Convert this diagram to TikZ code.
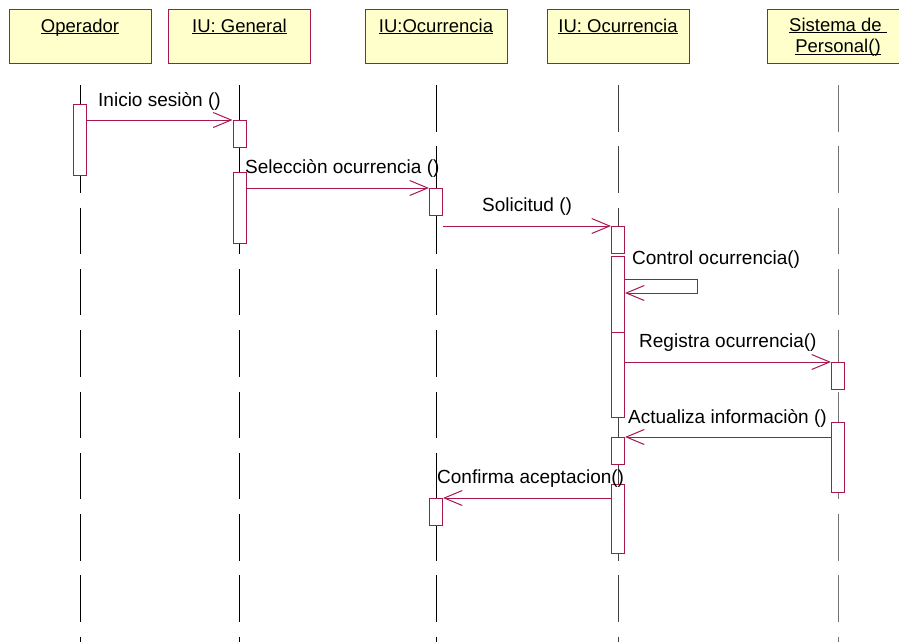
\documentclass[tikz,border=0pt]{standalone}
\usepackage{fontspec}
\setmainfont{Liberation Sans}
\usetikzlibrary{arrows.meta}
\definecolor{roseline}{RGB}{168,24,78}
\definecolor{headfill}{RGB}{255,255,204}
\newsavebox{\ulbox}
% underlined object name, rule just below the baseline
\newcommand{\ulword}[1]{\sbox{\ulbox}{#1}\rlap{\rule[-2.2pt]{\wd\ulbox}{0.9pt}}\usebox{\ulbox}}
\begin{document}
\begin{tikzpicture}[x=1pt,y=-1pt,
  headbox/.style={draw=roseline, fill=headfill, line width=1pt, minimum width=142pt,
    minimum height=54pt, inner sep=0pt, anchor=north west},
  headtxt/.style={anchor=base, font=\fontsize{18.5}{22}\selectfont, inner sep=0pt},
  life/.style={line width=0.7pt, draw=black!85, dash pattern=on 46.5pt off 14.8pt},
  actbox/.style={draw=roseline, fill=white, line width=1pt, minimum width=13pt,
    inner sep=0pt, anchor=north},
  msg/.style={draw=roseline, line width=1pt, -{Straight Barb[length=18pt,width=15pt]}},
  msgtxt/.style={anchor=base west, font=\fontsize{19}{23}\selectfont, inner sep=0pt}]
\useasboundingbox (0,0) rectangle (899,641);

% object headers
\node[headbox] (hOp) at (9,9) {};
\node[headbox] (hIG) at (168,9) {};
\node[headbox] (hIOa) at (365,9) {};
\node[headbox] (hIOb) at (547,9) {};
\node[headbox] (hSP) at (767,9) {};
\node[headtxt] (tOp) at (80,32) {\ulword{Operador}};
\node[headtxt] (tIG) at (239.5,32) {\ulword{IU: General}};
\node[headtxt] (tIOa) at (436,32) {\ulword{IU:Ocurrencia}};
\node[headtxt] (tIOb) at (618,32) {\ulword{IU: Ocurrencia}};
\node[headtxt] (tSPa) at (838,31) {\ulword{Sistema de\ }};
\node[headtxt] (tSPb) at (838,52.5) {\ulword{Personal()}};

% lifelines
\foreach \nm/\xx/\cl in {Op/80/black, IG/239.5/black, IOa/436/black, IOb/618/black!75, SP/838/black!55}{
  \coordinate (l\nm top) at (\xx,85);
  \coordinate (l\nm bot) at (\xx,645);
  \draw[life, draw=\cl] (l\nm top) -- (l\nm bot);
}

% activations
\node[actbox, minimum height=71pt] (op1) at (80,104) {};
\node[actbox, minimum height=27pt] (ig1) at (239.5,120) {};
\node[actbox, minimum height=71pt] (ig2) at (239.5,172) {};
\node[actbox, minimum height=27pt] (io1) at (436,188) {};
\node[actbox, minimum height=27pt] (io2) at (436,498) {};
\node[actbox, minimum height=27pt] (ic1) at (618,226) {};
\node[actbox, minimum height=161pt] (ic2) at (618,256) {};
\node[actbox, minimum height=85pt] (ic3) at (618,332) {};
\node[actbox, minimum height=27pt] (ic4) at (618,437) {};
\node[actbox, minimum height=69pt] (ic5) at (618,484) {};
\node[actbox, minimum height=27pt] (sp1) at (838,362) {};
\node[actbox, minimum height=70pt] (sp2) at (838,422) {};

% messages
\draw[msg] (op1.east |- ig1.north west) -- (ig1.north west);
\draw[msg] (ig2.east |- io1.north west) -- (io1.north west);
\draw[msg] (io1.east |- ic1.north west) -- (ic1.north west);
\coordinate (selfA) at (697,279);
\coordinate (selfB) at (697,293);
\draw[msg] (ic2.east |- selfA) -- (selfA) -- (selfB) -- (ic2.east |- selfB);
\draw[msg] (ic3.east |- sp1.north west) -- (sp1.north west);
\draw[msg] (sp2.west |- ic4.north east) -- (ic4.north east);
\draw[msg] (ic5.west |- io2.north east) -- (io2.north east);

% message labels
\node[msgtxt] (m1) at (98,106) {Inicio sesiòn ()};
\node[msgtxt] (m2) at (245,173) {Selecciòn ocurrencia ()};
\node[msgtxt] (m3) at (482,211) {Solicitud ()};
\node[msgtxt] (m4) at (632,264) {Control ocurrencia()};
\node[msgtxt] (m5) at (639,347) {Registra ocurrencia()};
\node[msgtxt] (m6) at (628,423) {Actualiza informaciòn ()};
\node[msgtxt] (m7) at (437,483) {Confirma aceptacion()};
\end{tikzpicture}
\end{document}
